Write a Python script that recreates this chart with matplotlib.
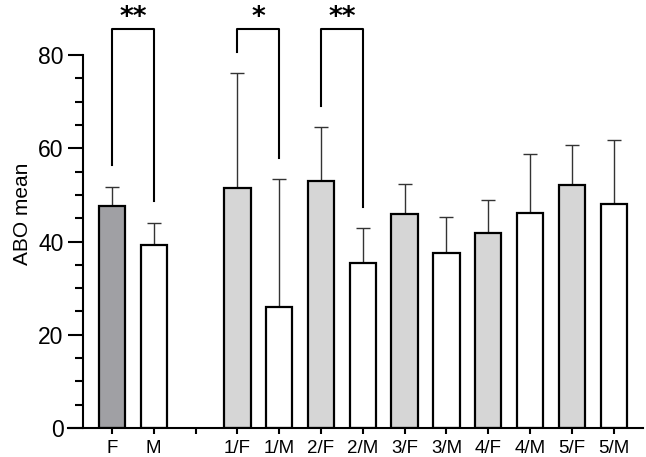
import matplotlib
matplotlib.use("Agg")
import matplotlib.pyplot as plt
import numpy as np

plt.rcParams['font.family'] = ['Liberation Sans', 'DejaVu Sans']

categories = ["F", "M", "", "1/F", "1/M", "2/F", "2/M", "3/F", "3/M", "4/F", "4/M", "5/F", "5/M"]
means = [47.7, 39.3, None, 51.4, 25.9, 52.9, 35.4, 46.0, 37.6, 41.9, 46.2, 52.1, 48.0]
upper = [51.6, 44.0, None, 76.2, 53.4, 64.5, 42.8, 52.3, 45.2, 48.8, 58.8, 60.7, 61.7]
colors = ["#a0a0a4", "#ffffff", None, "#d6d6d6", "#ffffff", "#d6d6d6", "#ffffff",
          "#d6d6d6", "#ffffff", "#d6d6d6", "#ffffff", "#d6d6d6", "#ffffff"]

# significance brackets: (left idx, right idx, left leg bottom, right leg bottom, label)
brackets = [(0, 1, 56.4, 48.6, "**"), (3, 4, 80.7, 58.0, "*"), (5, 6, 69.1, 47.5, "**")]
bracket_top = 85.6

fig = plt.figure(figsize=(6.46, 4.57), dpi=100)
ax = fig.add_axes([68/646, 29/457, 575/646, 428/457])

x = np.arange(len(categories))
for i, (m, u, c) in enumerate(zip(means, upper, colors)):
    if m is None:
        continue
    ax.errorbar(i, m, yerr=[[0], [u - m]], fmt='none', ecolor='#333333',
                elinewidth=1.0, capsize=5, capthick=1.0, zorder=1)
    ax.bar(i, m, width=0.63, color=c, edgecolor='black', linewidth=1.6, zorder=2)

for l, r, lb, rb, lab in brackets:
    ax.plot([l, l, r, r], [lb, bracket_top, bracket_top, rb], color='black',
            lw=1.5, clip_on=False, zorder=3)
    ax.text((l + r) / 2, 86.4, lab, ha='center', va='baseline', fontsize=19,
            fontweight='bold', family='DejaVu Sans', clip_on=False)

ax.set_xlim(-1.05, 12.7)
ax.set_ylim(0, 91.8)

for s in ['top', 'right']:
    ax.spines[s].set_visible(False)
ax.spines['left'].set_position(('axes', 15/575))
ax.spines['left'].set_bounds(0, 80)
ax.spines['left'].set_linewidth(1.5)
ax.spines['bottom'].set_linewidth(1.5)

ax.set_yticks([0, 20, 40, 60, 80])
ax.set_yticks(np.arange(0, 81, 5), minor=True)
ax.tick_params(axis='y', which='major', length=11, width=1.5, labelsize=16.5, pad=3)
ax.tick_params(axis='y', which='minor', length=5.5, width=1.5)
ax.set_xticks(x)
ax.set_xticklabels(categories)
ax.tick_params(axis='x', length=4.5, width=1.5, labelsize=13.5, pad=4)

ax.set_ylabel("ABO mean", fontsize=15, labelpad=4)

fig.savefig("out.png", dpi=100)
